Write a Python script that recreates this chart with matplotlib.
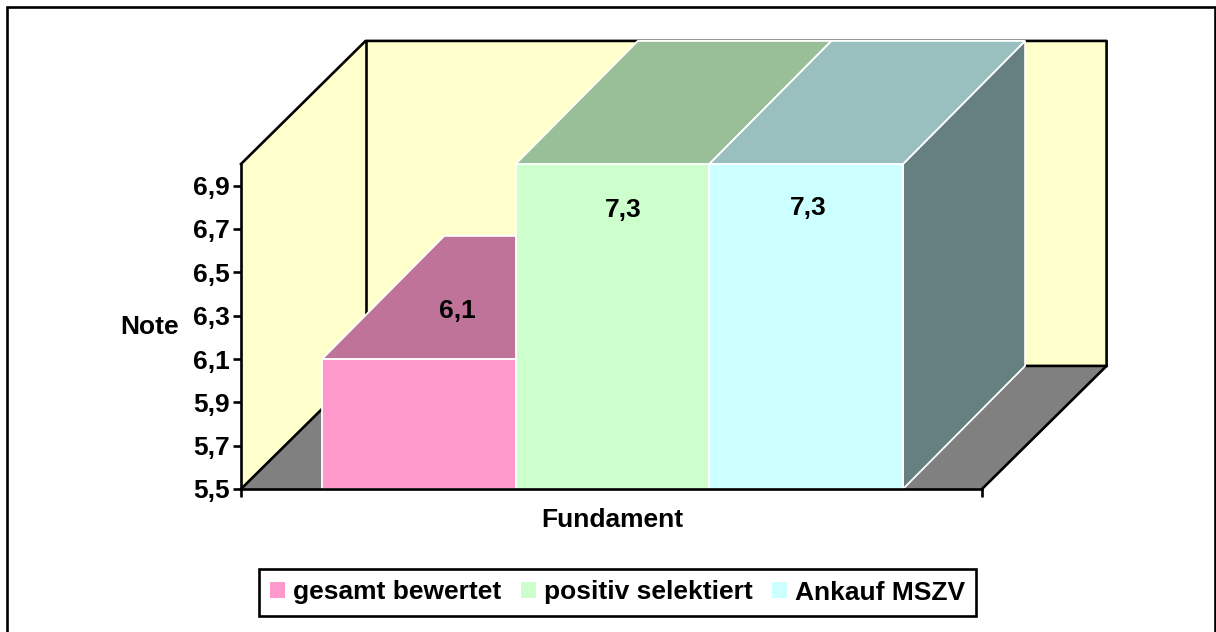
import matplotlib
matplotlib.use("Agg")
import matplotlib.pyplot as plt
from matplotlib.patches import Polygon, Rectangle

plt.rcParams["font.family"] = ["Liberation Sans", "DejaVu Sans"]
plt.rcParams["font.weight"] = "bold"

# data
series = ["gesamt bewertet", "positiv selektiert", "Ankauf MSZV"]
values = [6.1, 7.3, 7.3]
y_ticks = [5.5, 5.7, 5.9, 6.1, 6.3, 6.5, 6.7, 6.9]
x_title = "Fundament"
y_title = "Note"

# colours: front, top, side
front = ["#FF99CC", "#CCFFCC", "#CCFFFF"]
top = ["#BF7399", "#99BF99", "#99BFBF"]
side = ["#804D66", "#668066", "#668080"]
WALL = "#FFFFCC"
FLOOR = "#808080"

# label placement relative to each bar: x in bar widths, y in pixels from its top
label_dx = [0.2, 0.057, 0.01]
label_dy = [48, -46, -44]

W, H = 1216, 632
LW = 1.9
FS = 19

fig = plt.figure(figsize=(W / 100, H / 100), dpi=100, facecolor="white")
# front plane of the 3d box, in pixels
px_l, px_r, px_t, px_b = 241, 982, 164, 489
ax = fig.add_axes([px_l / W, 1 - px_b / H, (px_r - px_l) / W, (px_b - px_t) / H])
ax.patch.set_visible(False)

y_min, y_max = 5.5, 7.0
x_min, x_max = -0.919, 2.908
ax.set_xlim(x_min, x_max)
ax.set_ylim(y_min, y_max)

# depth of the box in data units (walls sit slightly behind the bars)
DX = 122 / 193.5
DY = 123 / 216.5
WX = 124.5 / 193.5


def poly(pts, color, edge="none", lw=0, z=1):
    ax.add_patch(Polygon(pts, closed=True, facecolor=color, edgecolor=edge,
                         linewidth=lw, clip_on=False, zorder=z, joinstyle="miter"))


def line(xs, ys, z=0.6):
    ax.plot(xs, ys, color="black", lw=LW, clip_on=False, zorder=z, solid_capstyle="projecting")


# ── walls and floor ──
poly([(x_min + WX, y_min + DY), (x_max + WX, y_min + DY), (x_max + WX, y_max + DY), (x_min + WX, y_max + DY)], WALL, z=0.2)
poly([(x_min, y_min), (x_min + WX, y_min + DY), (x_min + WX, y_max + DY), (x_min, y_max)], WALL, z=0.3)
poly([(x_min, y_min), (x_max, y_min), (x_max + WX, y_min + DY), (x_min + WX, y_min + DY)], FLOOR, z=0.3)

line([x_min, x_min + WX, x_max + WX, x_max + WX, x_max], [y_max, y_max + DY, y_max + DY, y_min + DY, y_min])
line([x_min, x_min + WX, x_max + WX], [y_min, y_min + DY, y_min + DY])
line([x_min + WX, x_min + WX], [y_min + DY, y_max + DY])

# ── bars, back to front ──
for i, v in enumerate(values):
    z = 1 + i
    shown = min(v, y_max)
    x0, x1 = i - 0.5, i + 0.5
    poly([(x1, y_min), (x1 + DX, y_min + DY), (x1 + DX, shown + DY), (x1, shown)], side[i], "white", 1.3, z)
    poly([(x0, shown), (x1, shown), (x1 + DX, shown + DY), (x0 + DX, shown + DY)], top[i], "white", 1.3, z)
    ax.bar(i, shown - y_min, bottom=y_min, width=1, color=front[i], edgecolor="white", linewidth=1.3, zorder=z + 0.1)
    ax.annotate(f"{v:.1f}".replace(".", ","), (i + label_dx[i], shown),
                xytext=(0, label_dy[i]), textcoords="offset pixels", ha="center", va="center",
                fontsize=FS, fontweight="bold", zorder=10)

# ── axes ──
for s in ["top", "right"]:
    ax.spines[s].set_visible(False)
for s in ["left", "bottom"]:
    ax.spines[s].set_linewidth(LW)
    ax.spines[s].set_zorder(8)

ax.set_yticks(y_ticks)
ax.set_yticklabels([f"{t:.1f}".replace(".", ",") for t in y_ticks], fontsize=FS, fontweight="bold")
ax.set_xticks([x_min, x_max])
ax.set_xticklabels([])
ax.tick_params(axis="both", length=6, width=LW, pad=2)

ax.set_ylabel(y_title, rotation=0, fontsize=FS, fontweight="bold", ha="center", va="center")
ax.yaxis.set_label_coords((150 - px_l) / (px_r - px_l), (px_b - 327) / (px_b - px_t))
ax.set_xlabel(x_title, fontsize=FS, fontweight="bold", ha="center", va="center")
ax.xaxis.set_label_coords((612 - px_l) / (px_r - px_l), -(520 - px_b) / (px_b - px_t))

# ── legend ──
handles = [Rectangle((0, 0), 1, 1, facecolor=c, edgecolor="none") for c in front]
leg = fig.legend(handles, series, ncol=3, loc="center", bbox_to_anchor=(617.5 / W, 1 - 592.5 / H),
                 fontsize=FS, frameon=True, fancybox=False, edgecolor="black", framealpha=1,
                 handlelength=0.56, handleheight=0.56, handletextpad=0.3, columnspacing=0.76,
                 borderpad=0.42, borderaxespad=0)
leg.get_frame().set_linewidth(LW)

# outer frame, bottom edge runs off the picture
fig.add_artist(Rectangle((7 / W, -0.01), (1215 - 7) / W, 1 - 7 / H + 0.01, transform=fig.transFigure,
                         facecolor="none", edgecolor="black", linewidth=LW))

fig.savefig("out.png", dpi=100)
